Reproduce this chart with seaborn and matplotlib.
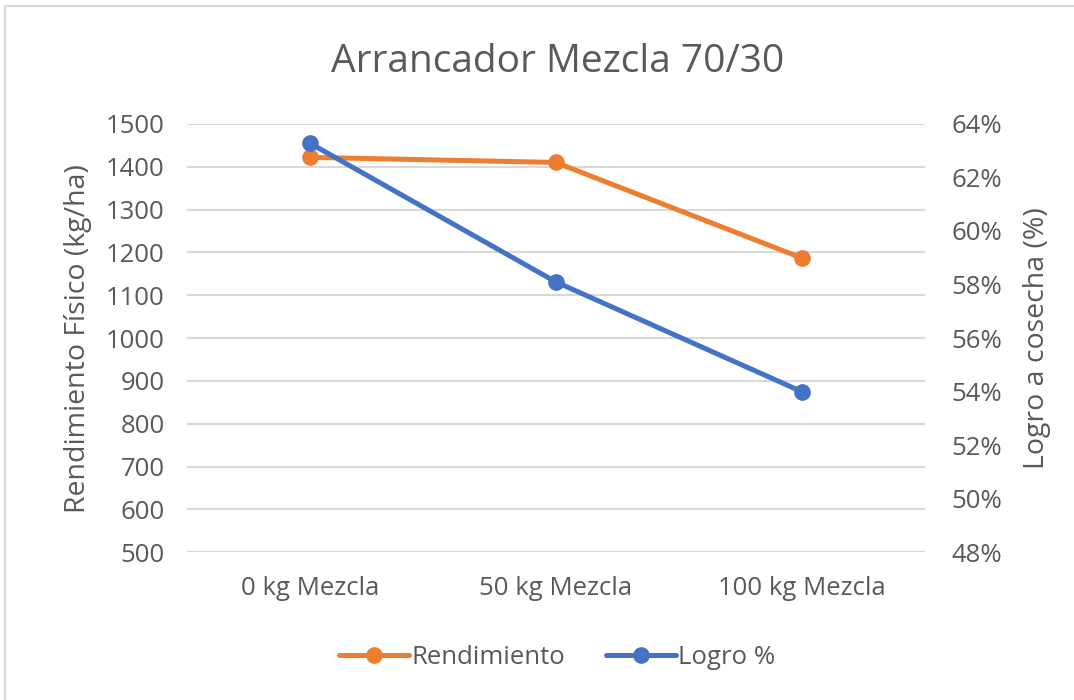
"""
Arrancador Mezcla 70/30 - rendimiento vs logro a cosecha.
"""

import matplotlib
matplotlib.use("Agg")
import matplotlib.pyplot as plt
import matplotlib.patches as mpatches
from matplotlib.ticker import FuncFormatter
import seaborn as sns
import pandas as pd

# data
categories = ["0 kg Mezcla", "50 kg Mezcla", "100 kg Mezcla"]
rendimiento = [1422, 1410, 1187]
logro = [0.6328, 0.581, 0.540]

left_ticks = list(range(500, 1501, 100))
right_ticks = [0.48, 0.50, 0.52, 0.54, 0.56, 0.58, 0.60, 0.62, 0.64]

ORANGE = "#ED7D31"
BLUE = "#4472C4"
TEXT = "#595959"
GRID = "#D9D9D9"

sns.set_style("white")
plt.rcParams['font.family'] = ['Open Sans', 'DejaVu Sans']

df = pd.DataFrame({"cat": categories, "rend": rendimiento, "logro": logro})

fig = plt.figure(figsize=(10.74, 7.0), dpi=100)
ax = fig.add_axes([0.174, 0.211, 0.687, 0.612])
ax2 = ax.twinx()

sns.lineplot(data=df, x="cat", y="rend", ax=ax, color=ORANGE, marker="o",
             linewidth=3.6, markersize=12, markeredgewidth=0, sort=False,
             label="Rendimiento", legend=False)
sns.lineplot(data=df, x="cat", y="logro", ax=ax2, color=BLUE, marker="o",
             linewidth=3.6, markersize=12, markeredgewidth=0, sort=False,
             label="Logro %", legend=False)

ax.set_xlim(-0.5, 2.5)
ax.set_ylim(500, 1500)
ax.set_yticks(left_ticks)
ax2.set_ylim(0.48, 0.64)
ax2.set_yticks(right_ticks)
ax2.yaxis.set_major_formatter(FuncFormatter(lambda v, _: f"{v * 100:.0f}%"))

ax.grid(axis="y", color=GRID, linewidth=1.5)
ax.set_axisbelow(True)
for a in (ax, ax2):
    for s in a.spines.values():
        s.set_visible(False)
    a.tick_params(length=0, labelsize=18.5, labelcolor=TEXT)
ax.tick_params(axis="y", pad=16)
ax2.tick_params(axis="y", pad=19)
ax.tick_params(axis="x", pad=17)

ax.set_xlabel("")
ax.set_ylabel("Rendimiento Físico (kg/ha)", fontsize=20.5, color=TEXT)
ax2.set_ylabel("Logro a cosecha (%)", fontsize=20.5, color=TEXT, rotation=90)
ax.yaxis.set_label_coords(-0.128, 0.5)
ax2.yaxis.set_label_coords(1.133, 0.5)

fig.text(0.519, 1 - 72 / 700, "Arrancador Mezcla 70/30", ha="center",
         va="baseline", fontsize=28, color=TEXT)

h1, l1 = ax.get_legend_handles_labels()
h2, l2 = ax2.get_legend_handles_labels()
fig.legend(h1 + h2, l1 + l2, loc="center", bbox_to_anchor=(0.519, 0.061),
           ncol=2, frameon=False, fontsize=18.5, labelcolor=TEXT,
           handlelength=2.7, handletextpad=0.1, columnspacing=1.6)

# light chart-area border like the spreadsheet export
fig.patches.append(mpatches.Rectangle((0.005, -0.01), 1.2, 1.002,
                                      transform=fig.transFigure, fill=False,
                                      edgecolor="#D9D9D9", linewidth=1.5))

fig.savefig("out.png", dpi=100)
